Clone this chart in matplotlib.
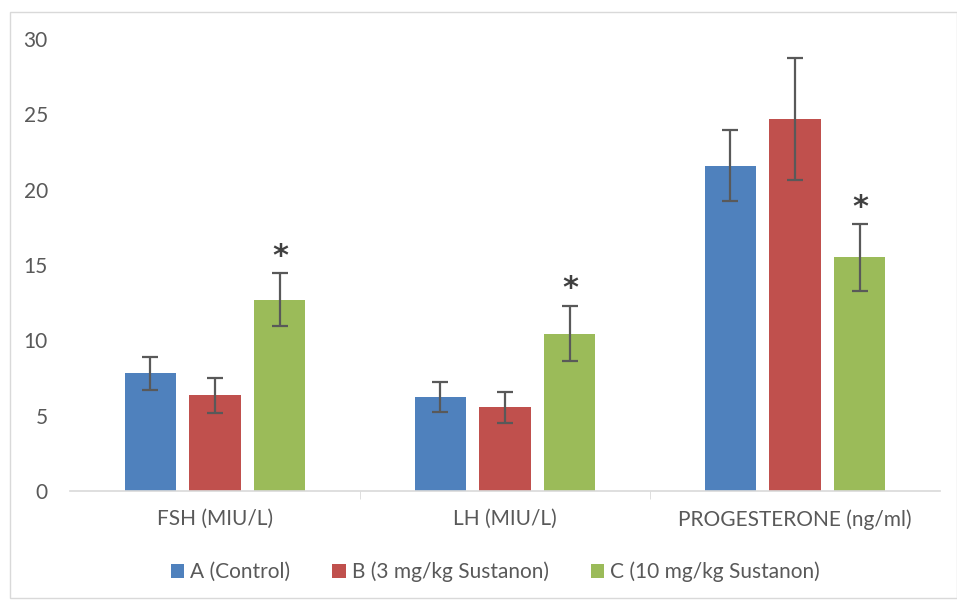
import numpy as np
import matplotlib.pyplot as plt
from matplotlib.patches import Rectangle

plt.rcParams['font.family'] = ['Lato', 'DejaVu Sans']

categories = ["FSH (MIU/L)", "LH (MIU/L)", "PROGESTERONE (ng/ml)"]
groups = ["A (Control)", "B (3 mg/kg Sustanon)", "C (10 mg/kg Sustanon)"]
colors = ["#4F81BD", "#C0504D", "#9BBB59"]

means_a = [7.8, 6.25, 21.6]
means_b = [6.35, 5.55, 24.7]
means_c = [12.7, 10.45, 15.5]
err_a = [1.1, 1.0, 2.35]
err_b = [1.15, 1.05, 4.05]
err_c = [1.75, 1.85, 2.2]
significant = [True, True, True]

means = [means_a, means_b, means_c]
errs = [err_a, err_b, err_c]

fig = plt.figure(figsize=(9.57, 6.0), dpi=100)
fig.patches.append(Rectangle((10 / 957, 0.003), 0.99, 1 - 12 / 600 - 0.003,
                             transform=fig.transFigure, fill=False,
                             edgecolor="#d9d9d9", linewidth=1))
ax = fig.add_axes([70 / 957, 1 - 491 / 600, 870 / 957, 452 / 600])

x = np.arange(len(categories))
width = 0.176
step = 0.224
for i in range(3):
    pos = x + (i - 1) * step
    ax.bar(pos, means[i], width, color=colors[i], label=groups[i], zorder=2)
    ax.errorbar(pos, means[i], yerr=errs[i], fmt="none", ecolor="#595959",
                elinewidth=1.6, capsize=5.5, capthick=1.6, zorder=3)

# significance marks above group C
pos_c = x + step
for j in range(len(categories)):
    if significant[j]:
        ax.text(pos_c[j], means_c[j] + err_c[j] + 0.15, "*", ha="center",
                va="bottom", fontsize=22, color="#404040", family="DejaVu Sans",
                fontweight="bold")

ax.set_xlim(-0.5, 2.5)
ax.set_ylim(0, 30)
ax.set_yticks([0, 5, 10, 15, 20, 25, 30])
ax.set_xticks(x)
ax.set_xticklabels(categories)
ax.set_xticks([0.5, 1.5], minor=True)
ax.tick_params(axis="x", which="major", length=0, pad=13, labelsize=15, labelcolor="#595959")
ax.tick_params(axis="x", which="minor", length=6, color="#d9d9d9")
ax.tick_params(axis="y", length=0, pad=16, labelsize=15, labelcolor="#595959")
for s in ["top", "right", "left"]:
    ax.spines[s].set_visible(False)
ax.spines["bottom"].set_color("#d9d9d9")
ax.spines["bottom"].set_linewidth(1.2)

ax.legend(loc="upper center", bbox_to_anchor=(0.489, -0.115), ncol=3, frameon=False,
          fontsize=15, labelcolor="#595959", handlelength=0.65, handleheight=0.65,
          handletextpad=0.3, columnspacing=2.0)

fig.savefig("out.png", dpi=100)
